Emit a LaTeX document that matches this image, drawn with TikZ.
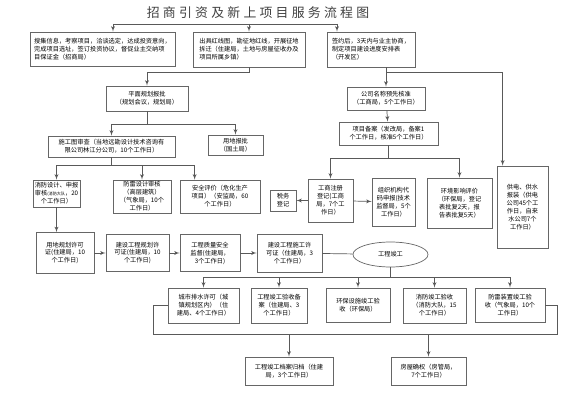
\documentclass[tikz,border=0pt]{standalone}
\usepackage{fontspec}
\setmainfont{Noto Sans CJK SC}
\usetikzlibrary{shapes, arrows, calc}

\begin{document}
\begin{tikzpicture}[>=latex', x=0.03cm, y=-0.03cm,
  box/.style={draw=black!60, line width=0.6pt, align=center, inner sep=1pt,
    font=\fontsize{5.3}{6.8}\selectfont},
  lbox/.style={box, align=left},
  wire/.style={draw=black!65, line width=0.6pt}]
\useasboundingbox (0,0) rectangle (588,400);
\node at (258,13) (title) {\fontsize{11}{11}\selectfont\color{black!75}\addfontfeature{LetterSpace=25}招商引资及新上项目服务流程图};
\node[lbox, minimum width=4.35cm, minimum height=1.02cm] at (102.5,49) (b1) {搜集信息，考察项目，洽谈选定，达成投资意向，\\完成项目选址，签订投资协议，督促业主交纳项\\目保证金（招商局）};
\node[lbox, minimum width=3.36cm, minimum height=1.05cm] at (249,49.5) (b2) {出具红线图，勘征地红线，开展征地\\拆迁（住建局，土地与房屋征收办及\\项目所属乡镇）};
\node[lbox, minimum width=2.64cm, minimum height=1.05cm] at (371,49.5) (b3) {签约后，3天内与业主协商，\\制定项目建设进度安排表\\（开发区）};
\node[box, minimum width=2.46cm, minimum height=0.75cm] at (147,98.5) (pm) {平面规划报批\\（规划会议，规划局）};
\node[box, minimum width=3.81cm, minimum height=0.63cm] at (111.5,146.5) (sgt) {施工图审查（当地远勘设计技术咨询有\\限公司林江分公司，10个工作日）};
\node[box, minimum width=1.65cm, minimum height=0.6cm] at (235.5,145) (yd) {用地报批\\（国土局）};
\node[box, minimum width=1.41cm, minimum height=0.81cm] at (56.5,193.5) (xf) {消防设计、申报\\审核{\fontsize{3.5}{4}\selectfont(消防大队}，20\\个工作日）};
\node[box, minimum width=1.74cm, minimum height=0.99cm] at (142,196.5) (fl) {防雷设计审核\\（高层建筑）\\（气象局，10个\\工作日）};
\node[box, minimum width=2.4cm, minimum height=0.99cm] at (220,196.5) (aq) {安全评价（危化生产\\项目）（安监局，60\\个工作日）};
\node[box, minimum width=2.34cm, minimum height=0.69cm] at (386,98.5) (gs) {公司名称预先核准\\（工商局，5个工作日）};
\node[box, minimum width=2.97cm, minimum height=0.69cm] at (388.5,133.5) (xmba) {项目备案（发改局，备案1\\个工作日，核准5个工作日）};
\node[box, minimum width=1.35cm, minimum height=1.29cm] at (330.5,200.5) (gszc) {工商注册\\登记(工商\\局，7个工\\作日）};
\node[box, minimum width=0.78cm, minimum height=0.63cm] at (283,200.5) (sw) {税务\\登记};
\node[box, minimum width=1.29cm, minimum height=1.44cm] at (393.5,202) (zz) {组织机构代\\码申报(技术\\监督局，5个\\工作日）};
\node[box, minimum width=1.95cm, minimum height=1.5cm] at (459.5,203) (hp) {环境影响评价\\（环保局，登记\\表批复2天，报\\告表批复5天）};
\node[box, minimum width=1.53cm, minimum height=2.46cm] at (522.5,207) (gd) {供电、供水\\报装（供电\\公司45个工\\作日，自来\\水公司7个\\工作日）};
\node[box, minimum width=1.74cm, minimum height=1.23cm] at (65,253) (ydgh) {用地规划许可\\证(住建局，10\\个工作日)};
\node[box, minimum width=1.89cm, minimum height=1.11cm] at (137.5,253) (jsgh) {建设工程规划许\\可证(住建局，10\\个工作日)};
\node[box, minimum width=1.8cm, minimum height=1.11cm] at (210,253) (zl) {工程质量安全\\监督(住建局，\\3个工作日)};
\node[box, minimum width=1.95cm, minimum height=1.14cm] at (289.5,253) (sg) {建设工程施工许\\可证（住建局，3\\个工作日）};
\node[box, ellipse, minimum width=2.25cm, minimum height=0.75cm] at (390.5,254.5) (jg) {工程竣工};
\node[box, minimum width=2.13cm, minimum height=1.05cm] at (203.5,305.5) (ps) {城市排水许可（城\\镇规划区内）（住\\建局、4个工作日）};
\node[box, minimum width=1.68cm, minimum height=1.05cm] at (279,305.5) (ba) {工程竣工验收备\\案（住建局、3\\个工作日）};
\node[box, minimum width=1.92cm, minimum height=1.02cm] at (358,305) (hb) {环保设施竣工验\\收（环保局）};
\node[box, minimum width=1.89cm, minimum height=1.05cm] at (434.5,305.5) (xfys) {消防竣工验收\\（消防大队，15\\个工作日）};
\node[box, minimum width=2.1cm, minimum height=1.02cm] at (510,305) (flys) {防雷装置竣工验\\收（气象局，10个\\工作日）};
\node[box, minimum width=2.64cm, minimum height=0.84cm] at (289,371) (da) {工程竣工档案归档（住建\\局，3个工作日）};
\node[box, minimum width=2.25cm, minimum height=0.84cm] at (428.5,371) (fq) {房屋确权（房管局，\\7个工作日）};
\coordinate (tl) at (113,24);
\coordinate (tr) at (337,24);
\draw[wire] (tl) -- (tr);
\draw[wire,->] (tl) -- (b1.north -| tl);
\draw[wire,->] (b2.north |- tl) -- (b2.north);
\draw[wire,->] (tr) -- (b3.north -| tr);
\draw[wire,->] (b2.south) -- ++(0,5) -| (pm.north);
\coordinate (gsj) at (gs.north |- 0,72);
\draw[wire,->] (b3.south -| gs.north) -- (gs.north);
\draw[wire,->] (gsj) -| ([xshift=0.18cm]gd.north west);
\draw[wire,->] (gs) -- (xmba);
\coordinate (xb) at (xmba.south |- 0,158);
\draw[wire] (xmba.south) -- (xb);
\draw[wire,->] (xb) -| (gszc.north);
\draw[wire,->] (xb) -| (hp.north);
\draw[wire,->] (gszc) -- (sw);
\draw[wire,->] (gszc) -- (zz);
\coordinate (pb) at (pm.south |- 0,124);
\draw[wire] (pm.south) -- (pb);
\draw[wire,->] (pb) -| (sgt.north);
\draw[wire,->] (pb) -| (yd.north);
\coordinate (sb) at (sgt.south |- 0,165);
\draw[wire] (sgt.south) -- (sb);
\draw[wire,->] (sb) -| (xf.north);
\draw[wire,->] (sb) -| (fl.north);
\draw[wire,->] (sb) -| ([xshift=0.45cm]aq.north west);
\draw[wire,->] (xf.south) -- (xf.south |- ydgh.north);
\draw[wire,->] (ydgh) -- (jsgh);
\draw[wire,->] (jsgh) -- (zl);
\draw[wire,->] (zl) -- (sg);
\draw[wire] (sg) -- (jg);
\coordinate (jb) at (jg.south |- 0,277);
\draw[wire] (jg.south) -- (jb);
\draw[wire] (ps.north |- jb) -- (flys.north |- jb);
\foreach \n in {ps,ba,hb,xfys,flys}
  \draw[wire,->] (\n.north |- jb) -- (\n.north);
\coordinate (bl) at (153,334);
\coordinate (br) at (557,334);
\draw[wire] (ps.west) -| (bl) -- (br) |- (flys.east);
\draw[wire,->] (da.north |- bl) -- (da.north);
\draw[wire,->] (fq.north |- bl) -- (fq.north);
\end{tikzpicture}
\end{document}
